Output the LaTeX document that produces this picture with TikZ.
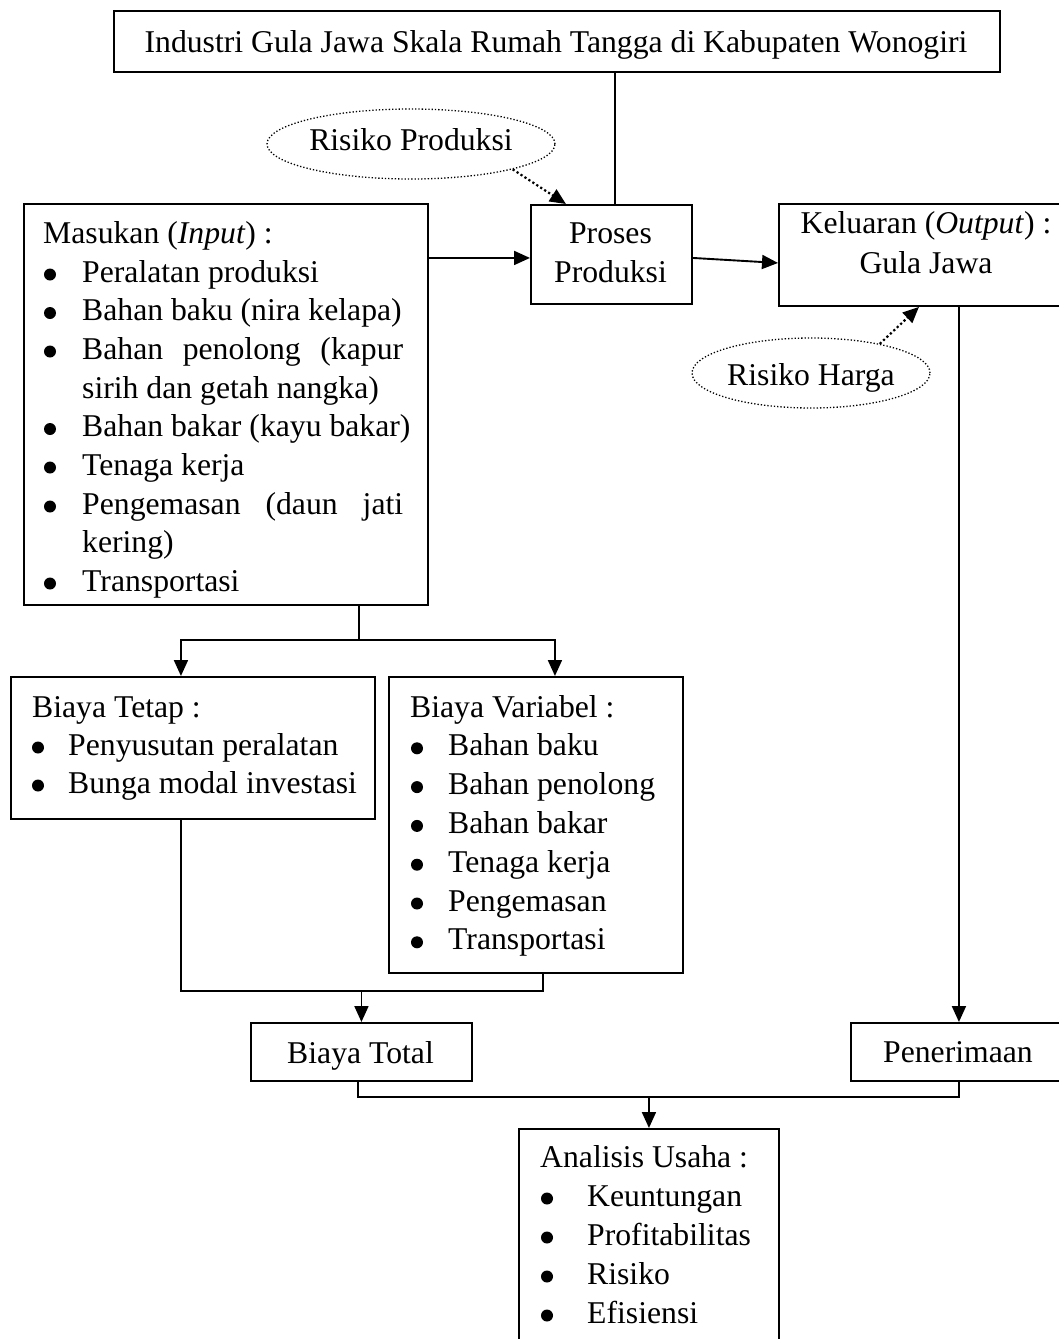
\documentclass[tikz,border=0pt]{standalone}
\usepackage{fontspec}
\setmainfont{Liberation Serif}
\usetikzlibrary{arrows.meta,shapes.geometric}
\begin{document}
\begin{tikzpicture}[x=1pt,y=-1pt,
  every node/.style={font=\fontsize{31.7}{39}\selectfont},
  box/.style={draw, line width=1.9pt, inner sep=0pt, anchor=north west},
  txt/.style={inner sep=0pt},
  bul/.style={circle, fill, inner sep=0pt, minimum size=12pt},
  ln/.style={line width=1.9pt},
  arr/.style={line width=1.9pt, -{Triangle[width=14pt,length=16pt]}},
  dotarr/.style={line width=2.2pt, dash pattern=on 2.2pt off 2.5pt, -{Triangle[width=14pt,length=16pt]}},
  risk/.style={ellipse, draw, line width=1.3pt, dash pattern=on 1.3pt off 2pt, inner sep=0pt}
]
\fill[white] (0,0) rectangle (1059,1339);
\useasboundingbox (0,0) rectangle (1059,1339);

% boxes
\node[box, minimum width=886pt, minimum height=61pt] (top) at (113,10) {};
\node[box, minimum width=404pt, minimum height=401pt] (masukan) at (23,203) {};
\node[box, minimum width=161pt, minimum height=99pt] (proses) at (530,204) {};
\node[box, minimum width=296pt, minimum height=102pt] (keluaran) at (778,203) {};
\node[box, minimum width=364pt, minimum height=142pt] (tetap) at (10,676) {};
\node[box, minimum width=294pt, minimum height=296pt] (variabel) at (388,676) {};
\node[box, minimum width=221pt, minimum height=58pt] (total) at (250,1022) {};
\node[box, minimum width=216pt, minimum height=58pt] (penerimaan) at (850,1022) {};
\node[box, minimum width=260pt, minimum height=230pt] (analisis) at (518,1128) {};
\node[risk, minimum width=288pt, minimum height=70pt] (rp) at (411,144) {};
\node[risk, minimum width=238pt, minimum height=70pt] (rh) at (811,373) {};

% texts
\node[txt, anchor=base] (toptxt) at (556,52) {Industri Gula Jawa Skala Rumah Tangga di Kabupaten Wonogiri};
\node[txt, anchor=base] (rptxt) at (411,150) {Risiko Produksi};
\node[txt, anchor=base] (rhtxt) at (811,385) {Risiko Harga};
\node[txt, anchor=base] (pr1) at (610.5,243) {Proses};
\node[txt, anchor=base] (pr2) at (610.5,282) {Produksi};
\node[txt, anchor=base] (kl1) at (926,233) {Keluaran (\textit{Output}) :};
\node[txt, anchor=base] (kl2) at (926,273) {Gula Jawa};
\node[txt, anchor=base] (tottxt) at (360.5,1063) {Biaya Total};
\node[txt, anchor=base] (pentxt) at (958,1062) {Penerimaan};

% Masukan
\node[txt, anchor=base west] (m0) at (43,243) {Masukan (\textit{Input}) :};
\node[txt, anchor=base west] (m1) at (82,282) {Peralatan produksi};
\node[txt, anchor=base west] (m2) at (82,320.5) {Bahan baku (nira kelapa)};
\node[txt, anchor=base west] (m3) at (82,359) {\makebox[321pt][s]{Bahan penolong (kapur}};
\node[txt, anchor=base west] (m4) at (82,398) {sirih dan getah nangka)};
\node[txt, anchor=base west] (m5) at (82,436.5) {Bahan bakar (kayu bakar)};
\node[txt, anchor=base west] (m6) at (82,475) {Tenaga kerja};
\node[txt, anchor=base west] (m7) at (82,514) {\makebox[321pt][s]{Pengemasan (daun jati}};
\node[txt, anchor=base west] (m8) at (82,552.5) {kering)};
\node[txt, anchor=base west] (m9) at (82,591) {Transportasi};
\foreach \y [count=\i] in {282,320.5,359,436.5,475,514,591}
  \node[bul] (mb\i) at (50,\y-7.5) {};

% Biaya Tetap
\node[txt, anchor=base west] (t0) at (32,717) {Biaya Tetap :};
\node[txt, anchor=base west] (t1) at (68,755) {Penyusutan peralatan};
\node[txt, anchor=base west] (t2) at (68,793) {Bunga modal investasi};
\foreach \y [count=\i] in {755,793}
  \node[bul] (tb\i) at (38,\y-7.5) {};

% Biaya Variabel
\node[txt, anchor=base west] (v0) at (410,717) {Biaya Variabel :};
\node[txt, anchor=base west] (v1) at (448,755.8) {Bahan baku};
\node[txt, anchor=base west] (v2) at (448,794.6) {Bahan penolong};
\node[txt, anchor=base west] (v3) at (448,833.4) {Bahan bakar};
\node[txt, anchor=base west] (v4) at (448,872.2) {Tenaga kerja};
\node[txt, anchor=base west] (v5) at (448,911) {Pengemasan};
\node[txt, anchor=base west] (v6) at (448,949.8) {Transportasi};
\foreach \y [count=\i] in {755.8,794.6,833.4,872.2,911,949.8}
  \node[bul] (vb\i) at (417,\y-7.5) {};

% Analisis
\node[txt, anchor=base west] (a0) at (540,1167) {Analisis Usaha :};
\node[txt, anchor=base west] (a1) at (587,1206) {Keuntungan};
\node[txt, anchor=base west] (a2) at (587,1245) {Profitabilitas};
\node[txt, anchor=base west] (a3) at (587,1284) {Risiko};
\node[txt, anchor=base west] (a4) at (587,1323) {Efisiensi};
\foreach \y [count=\i] in {1206,1245,1284,1323}
  \node[bul] (ab\i) at (547,\y-7.5) {};

% connectors
\coordinate (ptop) at ([xshift=3.5pt]proses.north);
\draw[ln] (ptop) -- (ptop |- top.south);
\coordinate (pin) at ([yshift=-3.5pt]proses.west);
\draw[arr] (masukan.east |- pin) -- (pin);
\draw[arr] ([yshift=-3.5pt]proses.east) -- ([yshift=-8pt]keluaran.west);
\draw[dotarr] (rp.-14) -- ([xshift=-45.5pt]proses.north);
\draw[dotarr] (rh.23) -- ([xshift=-8pt]keluaran.south);
\draw[arr] (penerimaan.north |- keluaran.south) -- (penerimaan.north);

\coordinate (j1) at (359,640);
\draw[ln] (masukan.south -| j1) -- (j1);
\draw[arr] (j1) -| ([xshift=-12pt]tetap.north);
\draw[arr] (j1) -| ([xshift=19pt]variabel.north);

\coordinate (j2) at (total.north |- 0,991);
\coordinate (tbot) at ([xshift=-12pt]tetap.south);
\coordinate (vbot) at ([xshift=7pt]variabel.south);
\draw[ln] (tbot) |- (vbot |- j2) -- (vbot);
\draw[arr] (j2) -- (total.north);

\coordinate (j3) at (analisis.north |- 0,1097);
\coordinate (totb) at ([xshift=-3.5pt]total.south);
\draw[ln] (totb) |- (penerimaan.south |- j3) -- (penerimaan.south);
\draw[arr] (j3) -- (analisis.north);
\end{tikzpicture}
\end{document}
